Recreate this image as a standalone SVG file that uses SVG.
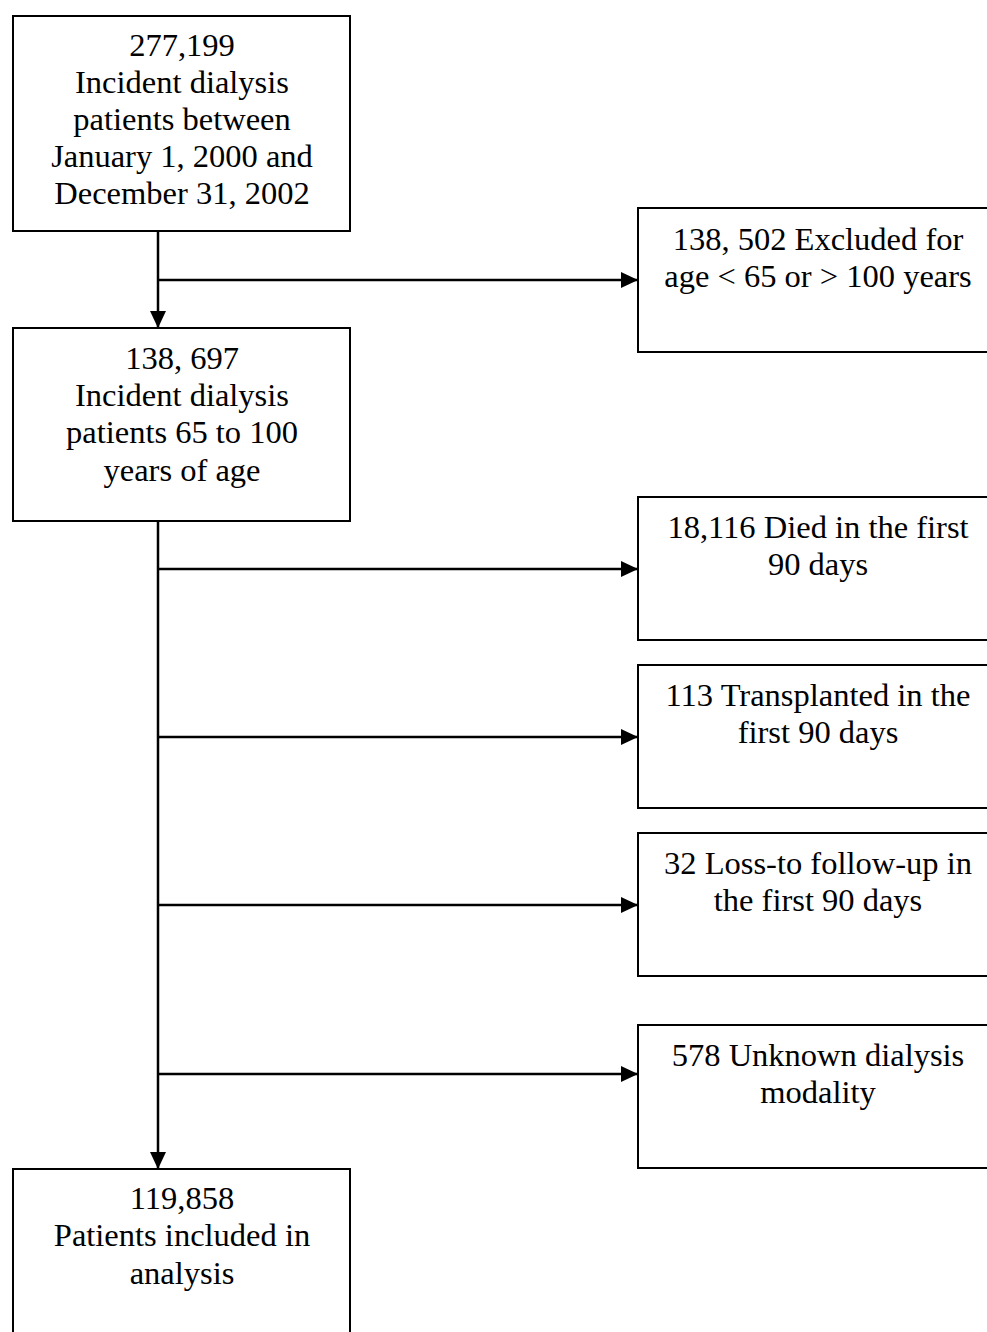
<svg xmlns="http://www.w3.org/2000/svg" width="987" height="1332" viewBox="0 0 987 1332">
<style>
.box{fill:#fff;stroke:#000;stroke-width:2}
.t{font-family:"Liberation Serif","Times New Roman",serif;font-size:32.5px;fill:#000;text-anchor:middle}
.c{stroke:#000;stroke-width:2.5;fill:none}
</style>
<defs>
<marker id="ah" viewBox="0 0 17 16" refX="17" refY="8" markerWidth="17" markerHeight="16" markerUnits="userSpaceOnUse" orient="auto">
<path d="M0,0 L17,8 L0,16 Z" fill="#000"/>
</marker>
</defs>
<rect width="987" height="1332" fill="#fff"/>
<g id="connectors">
<line class="c" x1="158" y1="231" x2="158" y2="328" marker-end="url(#ah)"/>
<line class="c" x1="158" y1="280" x2="638" y2="280" marker-end="url(#ah)"/>
<line class="c" x1="158" y1="521" x2="158" y2="1169" marker-end="url(#ah)"/>
<line class="c" x1="158" y1="569" x2="638" y2="569" marker-end="url(#ah)"/>
<line class="c" x1="158" y1="737" x2="638" y2="737" marker-end="url(#ah)"/>
<line class="c" x1="158" y1="905" x2="638" y2="905" marker-end="url(#ah)"/>
<line class="c" x1="158" y1="1074" x2="638" y2="1074" marker-end="url(#ah)"/>
</g>
<g id="n1">
<rect class="box" x="13" y="16" width="337" height="215"/>
<text class="t" x="182" y="56">277,199</text>
<text class="t" x="182" y="93">Incident dialysis</text>
<text class="t" x="182" y="130">patients between</text>
<text class="t" x="182" y="167">January 1, 2000 and</text>
<text class="t" x="182" y="204">December 31, 2002</text>
</g>
<g id="n2">
<rect class="box" x="638" y="208" width="362" height="144"/>
<text class="t" x="818" y="250">138, 502 Excluded for</text>
<text class="t" x="818" y="287">age &lt; 65 or &gt; 100 years</text>
</g>
<g id="n3">
<rect class="box" x="13" y="328" width="337" height="193"/>
<text class="t" x="182" y="369">138, 697</text>
<text class="t" x="182" y="406">Incident dialysis</text>
<text class="t" x="182" y="443">patients 65 to 100</text>
<text class="t" x="182" y="481">years of age</text>
</g>
<g id="n4">
<rect class="box" x="638" y="497" width="362" height="143"/>
<text class="t" x="818" y="538">18,116 Died in the first</text>
<text class="t" x="818" y="575">90 days</text>
</g>
<g id="n5">
<rect class="box" x="638" y="665" width="362" height="143"/>
<text class="t" x="818" y="706">113 Transplanted in the</text>
<text class="t" x="818" y="743">first 90 days</text>
</g>
<g id="n6">
<rect class="box" x="638" y="833" width="362" height="143"/>
<text class="t" x="818" y="874">32 Loss-to follow-up in</text>
<text class="t" x="818" y="911">the first 90 days</text>
</g>
<g id="n7">
<rect class="box" x="638" y="1025" width="362" height="143"/>
<text class="t" x="818" y="1066">578 Unknown dialysis</text>
<text class="t" x="818" y="1103">modality</text>
</g>
<g id="n8">
<rect class="box" x="13" y="1169" width="337" height="180"/>
<text class="t" x="182" y="1209">119,858</text>
<text class="t" x="182" y="1246">Patients included in</text>
<text class="t" x="182" y="1284">analysis</text>
</g>
</svg>
